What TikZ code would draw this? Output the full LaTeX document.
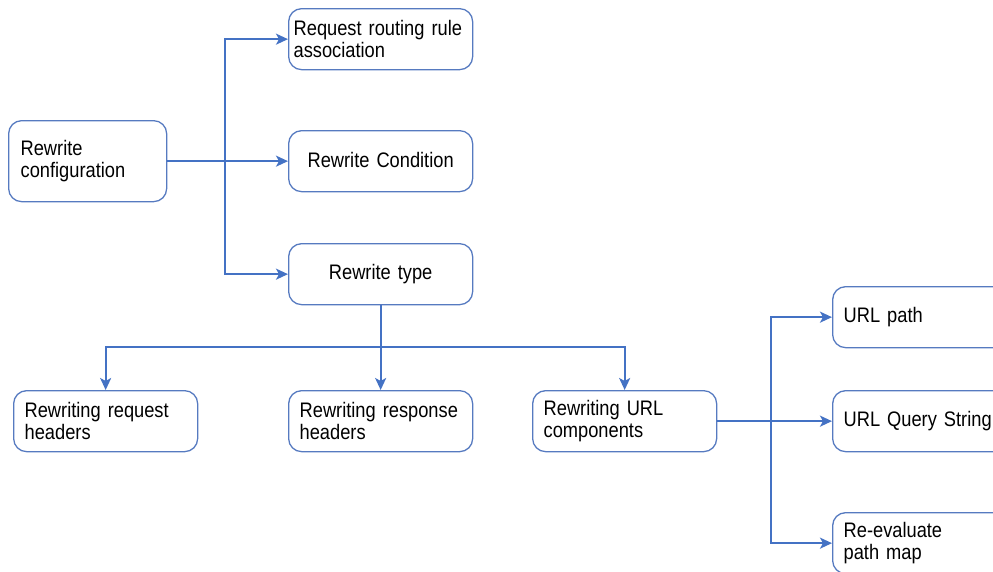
\documentclass[tikz,border=0pt]{standalone}
\usepackage{fontspec}
\setmainfont{Liberation Sans}[FakeStretch=0.87,WordSpace=0.7]
\usetikzlibrary{arrows.meta}
\definecolor{linkblue}{RGB}{68,114,196}
\definecolor{frameblue}{RGB}{86,122,192}
\begin{document}
\begin{tikzpicture}[x=1pt,y=-1pt,
  box/.style={draw=frameblue, line width=1.3pt, rounded corners=13pt,
    minimum width=184pt, minimum height=61pt, inner xsep=11pt, inner ysep=0pt,
    text width=162pt, align=left, anchor=north west,
    font=\fontsize{21}{22}\selectfont},
  cbox/.style={box, align=center},
  link/.style={draw=linkblue, line width=2pt},
  arrow/.style={link, -{Stealth[length=12pt,width=11pt,inset=3pt]}}]
  \useasboundingbox (0,0) rectangle (993,571);
  \clip (0,0) rectangle (993,571);

  % configuration root and its three children
  \node[box, minimum width=158pt, minimum height=81pt, text width=134pt, inner xsep=12pt] (cfg) at (8,120) {Rewrite\\configuration};
  \node[box, text width=174pt, inner xsep=5pt] (rule) at (288,8) {\mbox{Request routing rule}\\association};
  \node[cbox] (cond) at (288,130) {\raisebox{2pt}{Rewrite Condition}};
  \node[cbox] (type) at (288,243) {\raisebox{1pt}{Rewrite type}};

  % rewrite types
  \node[box] (reqh) at (13,390) {\mbox{Rewriting request}\\headers};
  \node[box] (resh) at (288,390) {\mbox{Rewriting response}\\headers};
  \node[box] (url) at (532,390) {\mbox{Rewriting URL}\\components};

  % URL components
  \node[box] (path) at (832,286) {\raisebox{2pt}{URL path}};
  \node[box] (query) at (832,390) {\raisebox{2pt}{\mbox{URL Query String}}};
  \node[box] (remap) at (832,512) {Re-evaluate\\path map};

  % junction points
  \coordinate (j1) at (225,160);
  \coordinate (j2) at (380,347);
  \coordinate (j3) at (771,420.5);

  \draw[arrow] (cfg.east) -- (cond.west);
  \draw[arrow] (j1) |- (rule.west);
  \draw[arrow] (j1) |- (type.west);

  \draw[arrow] (type.south) -- (resh.north);
  \draw[arrow] (j2) -| (reqh.north);
  \draw[arrow] (j2) -| (url.north);

  \draw[arrow] (url.east) -- (query.west);
  \draw[arrow] (j3) |- (path.west);
  \draw[arrow] (j3) |- (remap.west);
\end{tikzpicture}
\end{document}
